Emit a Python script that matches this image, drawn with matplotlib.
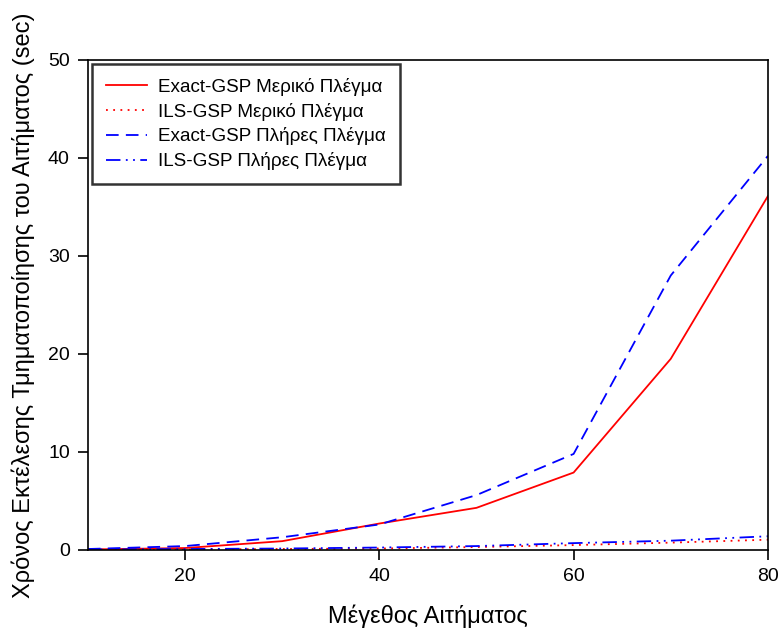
import matplotlib
matplotlib.use('Agg')
import matplotlib.pyplot as plt

plt.rcParams['font.family'] = ['Liberation Sans', 'DejaVu Sans']

# request sizes and execution times (sec)
sizes = [10, 20, 30, 40, 50, 60, 70, 80]
exact_partial = [0.05, 0.2, 0.9, 2.7, 4.3, 7.9, 19.5, 36.1]
ils_partial = [0.02, 0.05, 0.1, 0.15, 0.3, 0.5, 0.75, 1.05]
exact_full = [0.1, 0.4, 1.3, 2.6, 5.6, 9.8, 28.0, 40.2]
ils_full = [0.05, 0.1, 0.15, 0.25, 0.4, 0.7, 0.95, 1.4]

fig = plt.figure(figsize=(7.78, 6.3), dpi=100)
ax = fig.add_axes([0.113, 0.127, 0.874, 0.778])

ax.plot(sizes, exact_partial, color='red', linewidth=1.3, linestyle='-',
        label='Exact-GSP Μερικό Πλέγμα')
ax.plot(sizes, ils_partial, color='red', linewidth=1.3, linestyle=(0, (1, 3)),
        label='ILS-GSP Μερικό Πλέγμα')
ax.plot(sizes, exact_full, color='blue', linewidth=1.3, linestyle=(0, (7, 4)),
        label='Exact-GSP Πλήρες Πλέγμα')
ax.plot(sizes, ils_full, color='blue', linewidth=1.3,
        linestyle=(0, (8, 3, 1, 3, 1, 3)),
        label='ILS-GSP Πλήρες Πλέγμα')

ax.set_xlim(10, 80)
ax.set_ylim(0, 50)
ax.set_xticks([20, 40, 60, 80])
ax.set_yticks([0, 10, 20, 30, 40, 50])
ax.tick_params(direction='out', length=7, width=1.2, labelsize=14, pad=6)
for s in ax.spines.values():
    s.set_linewidth(1.2)

ax.set_xlabel('Μέγεθος Αιτήματος', fontsize=17, labelpad=14)
ax.set_ylabel('Χρόνος Εκτέλεσης Τμηματοποίησης του Αιτήματος (sec)', fontsize=17, labelpad=9)

leg = ax.legend(loc='upper left', fontsize=13.6, frameon=True, fancybox=False,
                borderaxespad=0.2, handlelength=2.2, labelspacing=0.36,
                borderpad=0.75, handletextpad=0.55)
leg.get_frame().set_edgecolor('black')
leg.get_frame().set_linewidth(1.8)

fig.savefig('out.png', dpi=100)
